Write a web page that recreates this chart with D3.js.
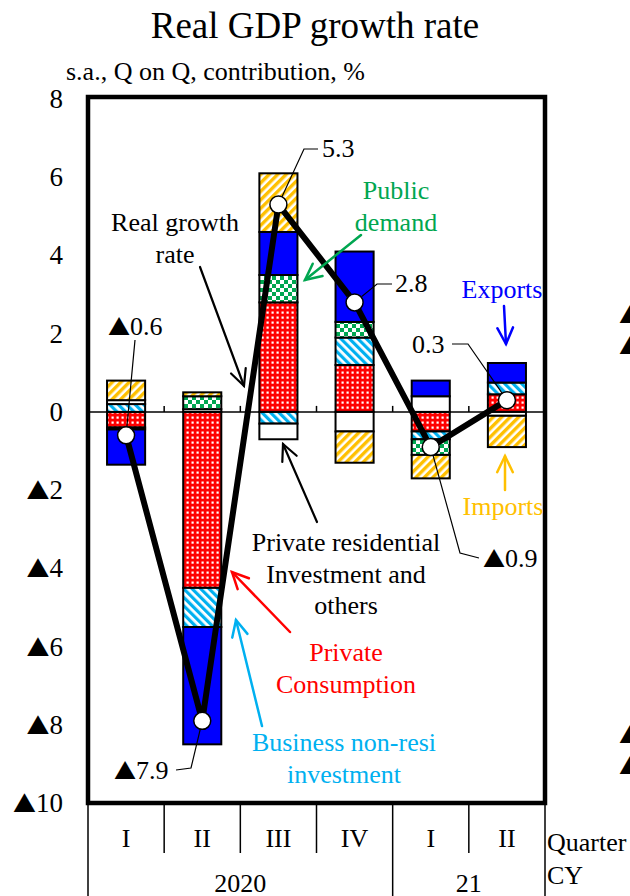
<!DOCTYPE html>
<html>
<head>
<meta charset="utf-8">
<script src="https://cdn.jsdelivr.net/npm/d3@7"></script>
<style>
  html, body { margin: 0; padding: 0; background: #fff; }
  svg { display: block; font-family: "Liberation Serif", "Times New Roman", serif; }
  .tri { font-family: "Noto Sans CJK JP", "DejaVu Sans", sans-serif; }
</style>
</head>
<body>
<svg id="chart" width="630" height="896"></svg>
<script>
// Quarters and calendar years along the bottom
const quarters = ["I", "II", "III", "IV", "I", "II"];
const years = ["2020", "21"];
const yearSpans = [4, 2];

// Contributions to real GDP growth (s.a., Q on Q, % points)
const privateConsumption = [-0.4, -4.5, 2.8, 1.2, -0.5, 0.45];
const businessInvestment = [0.2, -1.0, -0.3, 0.7, -0.2, 0.3];
const residentialOthers  = [0.1, 0.07, -0.4, -0.5, 0.4, -0.1];
const publicDemand       = [-0.05, 0.33, 0.7, 0.4, -0.4, 0];
const exportsC           = [-0.9, -3.0, 1.1, 1.8, 0.4, 0.5];
const importsC           = [0.5, 0.1, 1.5, -0.8, -0.6, -0.8];
const realGrowth         = [-0.6, -7.9, 5.3, 2.8, -0.9, 0.3];

const yTicks = [8, 6, 4, 2, 0, -2, -4, -6, -8, -10];

const seriesKeys = ["pc", "bi", "ro", "pd", "ex", "im"];
const seriesValues = {
  pc: privateConsumption, bi: businessInvestment, ro: residentialOthers,
  pd: publicDemand, ex: exportsC, im: importsC
};
const rows = quarters.map((q, i) => {
  const r = { idx: i };
  seriesKeys.forEach(k => r[k] = seriesValues[k][i]);
  return r;
});

const svg = d3.select("#chart");
const plotLeft = 88, plotRight = 545, plotTop = 97, plotBottom = 803;

const x = d3.scaleBand().domain(d3.range(quarters.length)).range([plotLeft, plotRight])
  .paddingInner(0.5).paddingOuter(0.25);
const y = d3.scaleLinear().domain([-10, 8]).range([plotBottom, plotTop + 2]);
const step = x.step();

// Text with the ▲ (minus) sign set in a full-width glyph
function markText(sel, str) {
  const parts = String(str).split("▲");
  parts.forEach((part, k) => {
    if (k > 0) sel.append("tspan").attr("class", "tri").attr("font-size", "0.85em").text("▲");
    if (part) sel.append("tspan").text(part);
  });
  return sel;
}

// ---------- fill patterns ----------
const defs = svg.append("defs");
const red = "#ff0000", cyan = "#00b0f0", green = "#00a650", yellow = "#ffc000", blue = "#0000ff";

let p = defs.append("pattern").attr("id", "pat-pc").attr("patternUnits", "userSpaceOnUse")
  .attr("width", 5).attr("height", 5);
p.append("rect").attr("width", 5).attr("height", 5).attr("fill", red);
p.append("rect").attr("x", 1.5).attr("y", 1.5).attr("width", 2.2).attr("height", 2.2).attr("fill", "#fff");

p = defs.append("pattern").attr("id", "pat-bi").attr("patternUnits", "userSpaceOnUse")
  .attr("width", 6).attr("height", 6).attr("patternTransform", "rotate(-45)");
p.append("rect").attr("width", 6).attr("height", 6).attr("fill", "#fff");
p.append("rect").attr("width", 3.2).attr("height", 6).attr("fill", cyan);

p = defs.append("pattern").attr("id", "pat-pd").attr("patternUnits", "userSpaceOnUse")
  .attr("width", 8).attr("height", 8);
p.append("rect").attr("width", 8).attr("height", 8).attr("fill", green);
p.append("rect").attr("width", 4).attr("height", 4).attr("fill", "#fff");
p.append("rect").attr("x", 4).attr("y", 4).attr("width", 4).attr("height", 4).attr("fill", "#fff");

p = defs.append("pattern").attr("id", "pat-im").attr("patternUnits", "userSpaceOnUse")
  .attr("width", 6).attr("height", 6).attr("patternTransform", "rotate(45)");
p.append("rect").attr("width", 6).attr("height", 6).attr("fill", "#fff");
p.append("rect").attr("width", 3.4).attr("height", 6).attr("fill", yellow);

const fills = { pc: "url(#pat-pc)", bi: "url(#pat-bi)", ro: "#fff", pd: "url(#pat-pd)", ex: blue, im: "url(#pat-im)" };

// ---------- title ----------
svg.append("text").attr("x", 315).attr("y", 38).attr("text-anchor", "middle")
  .attr("font-size", 37).text("Real GDP growth rate");
svg.append("text").attr("x", 66).attr("y", 80).attr("font-size", 26)
  .text("s.a., Q on Q, contribution, %");

// ---------- y tick labels ----------
const fmt = v => v < 0 ? "▲" + Math.abs(v) : String(v);
svg.append("g").selectAll("text").data(yTicks).join("text")
  .attr("x", 63).attr("y", d => y(d) + 9).attr("text-anchor", "end")
  .attr("font-size", 27)
  .each(function (d) { markText(d3.select(this), fmt(d)); });

// ---------- stacked bars ----------
const stack = d3.stack().keys(seriesKeys).offset(d3.stackOffsetDiverging);
const stacked = stack(rows);
const barG = svg.append("g");
stacked.forEach(layer => {
  barG.append("g").selectAll("rect")
    .data(layer.filter(d => Math.abs(d[1] - d[0]) > 1e-9))
    .join("rect")
    .attr("x", d => x(d.data.idx))
    .attr("width", x.bandwidth())
    .attr("y", d => y(Math.max(d[0], d[1])))
    .attr("height", d => Math.abs(y(d[0]) - y(d[1])))
    .attr("fill", fills[layer.key])
    .attr("stroke", "#000").attr("stroke-width", 2);
});

// zero line and small ticks on it
svg.append("line").attr("x1", plotLeft).attr("x2", plotRight).attr("y1", y(0)).attr("y2", y(0))
  .attr("stroke", "#000").attr("stroke-width", 1.5);
svg.append("g").selectAll("line").data(d3.range(1, quarters.length)).join("line")
  .attr("x1", d => plotLeft + d * step).attr("x2", d => plotLeft + d * step)
  .attr("y1", y(0)).attr("y2", y(0) - 6).attr("stroke", "#000").attr("stroke-width", 1.5);

// ---------- value leaders (drawn under the line) ----------
const cx = i => x(i) + x.bandwidth() / 2;
const cy = i => y(realGrowth[i]);
const leaderG = svg.append("g").attr("fill", "none").attr("stroke", "#000").attr("stroke-width", 1.2);
const leaders = [
  { i: 0, pts: [[135, 340]], tx: 108, ty: 335 },
  { i: 1, pts: [[191, 768], [176, 770]], tx: 114, ty: 779 },
  { i: 2, pts: [[304, 149], [318, 149]], tx: 322, ty: 157 },
  { i: 3, pts: [[377, 284], [392, 284]], tx: 395, ty: 292 },
  { i: 4, pts: [[460, 553], [479, 558]], tx: 483, ty: 567 },
  { i: 5, pts: [[468, 344], [452, 344]], tx: 412, ty: 353 }
];
leaders.forEach(l => {
  leaderG.append("path").attr("d", d3.line()([[cx(l.i), cy(l.i)], ...l.pts]));
});

// ---------- real growth line ----------
svg.append("path").datum(realGrowth)
  .attr("d", d3.line().x((d, i) => cx(i)).y(d => y(d)))
  .attr("fill", "none").attr("stroke", "#000").attr("stroke-width", 6).attr("stroke-linejoin", "miter");
svg.append("g").selectAll("circle").data(realGrowth).join("circle")
  .attr("cx", (d, i) => cx(i)).attr("cy", d => y(d)).attr("r", 8.5)
  .attr("fill", "#fff").attr("stroke", "#000").attr("stroke-width", 1.5);

// value labels
const fmt1 = v => (v < 0 ? "▲" : "") + Math.abs(v).toFixed(1);
leaders.forEach(l => {
  markText(svg.append("text").attr("x", l.tx).attr("y", l.ty).attr("font-size", 26),
    fmt1(realGrowth[l.i]));
});

// ---------- plot frame ----------
svg.append("rect").attr("x", plotLeft).attr("y", plotTop)
  .attr("width", plotRight - plotLeft).attr("height", plotBottom - plotTop)
  .attr("fill", "none").attr("stroke", "#000").attr("stroke-width", 4.5);

// ---------- category axis ----------
const axG = svg.append("g").attr("stroke", "#000").attr("stroke-width", 1.5);
d3.range(quarters.length + 1).forEach(i => {
  axG.append("line").attr("x1", plotLeft + i * step).attr("x2", plotLeft + i * step)
    .attr("y1", plotBottom).attr("y2", 853);
});
let acc = 0;
[0, ...yearSpans].forEach(s => {
  acc += s;
  axG.append("line").attr("x1", plotLeft + acc * step).attr("x2", plotLeft + acc * step)
    .attr("y1", 853).attr("y2", 896);
});
svg.append("g").selectAll("text").data(quarters).join("text")
  .attr("x", (d, i) => cx(i)).attr("y", 847).attr("text-anchor", "middle")
  .attr("font-size", 26).text(d => d);
acc = 0;
years.forEach((yr, k) => {
  const mid = plotLeft + (acc + yearSpans[k] / 2) * step;
  acc += yearSpans[k];
  svg.append("text").attr("x", mid).attr("y", 892).attr("text-anchor", "middle")
    .attr("font-size", 26).text(yr);
});
svg.append("text").attr("x", 547).attr("y", 851).attr("font-size", 26).text("Quarter");
svg.append("text").attr("x", 547).attr("y", 884).attr("font-size", 26).text("CY");

// ---------- callouts ----------
function arrow(x1, y1, x2, y2, color, w) {
  const g = svg.append("g").attr("stroke", color).attr("stroke-width", w).attr("fill", "none")
    .attr("stroke-linecap", "round");
  g.append("line").attr("x1", x1).attr("y1", y1).attr("x2", x2).attr("y2", y2);
  const a = Math.atan2(y2 - y1, x2 - x1), L = 18, spread = 0.45;
  g.append("path").attr("d", d3.line()([
    [x2 - L * Math.cos(a - spread), y2 - L * Math.sin(a - spread)],
    [x2, y2],
    [x2 - L * Math.cos(a + spread), y2 - L * Math.sin(a + spread)]
  ]));
}
function label(lines, xPos, y0, color) {
  lines.forEach((t, k) => {
    svg.append("text").attr("x", xPos).attr("y", y0 + k * 31.5).attr("text-anchor", "middle")
      .attr("font-size", 26).attr("fill", color).text(t);
  });
}

label(["Real growth", "rate"], 175, 231, "#000");
arrow(200, 267, 244, 386, "#000", 2.2);

label(["Public", "demand"], 396, 199, green);
arrow(361, 235, 305, 280, green, 2.5);

label(["Exports"], 502, 298, blue);
arrow(504, 306, 506, 344, blue, 2.5);

label(["Imports"], 503, 515, yellow);
arrow(505, 490, 505, 456, yellow, 2.5);

label(["Private residential", "Investment and", "others"], 346, 551, "#000");
arrow(317, 522, 283, 444, "#000", 2.2);

label(["Private", "Consumption"], 346, 661, red);
arrow(290, 632, 232, 572, red, 2.5);

label(["Business non-resi", "investment"], 344, 751, cyan);
arrow(262, 726, 236, 620, cyan, 2.5);

// edge of the neighbouring panel's axis labels
[[619, 323], [619, 354], [619, 743], [619, 774]].forEach(([tx, ty]) => {
  svg.append("text").attr("class", "tri").attr("x", tx).attr("y", ty).attr("font-size", 22).text("▲");
});
</script>
</body>
</html>
